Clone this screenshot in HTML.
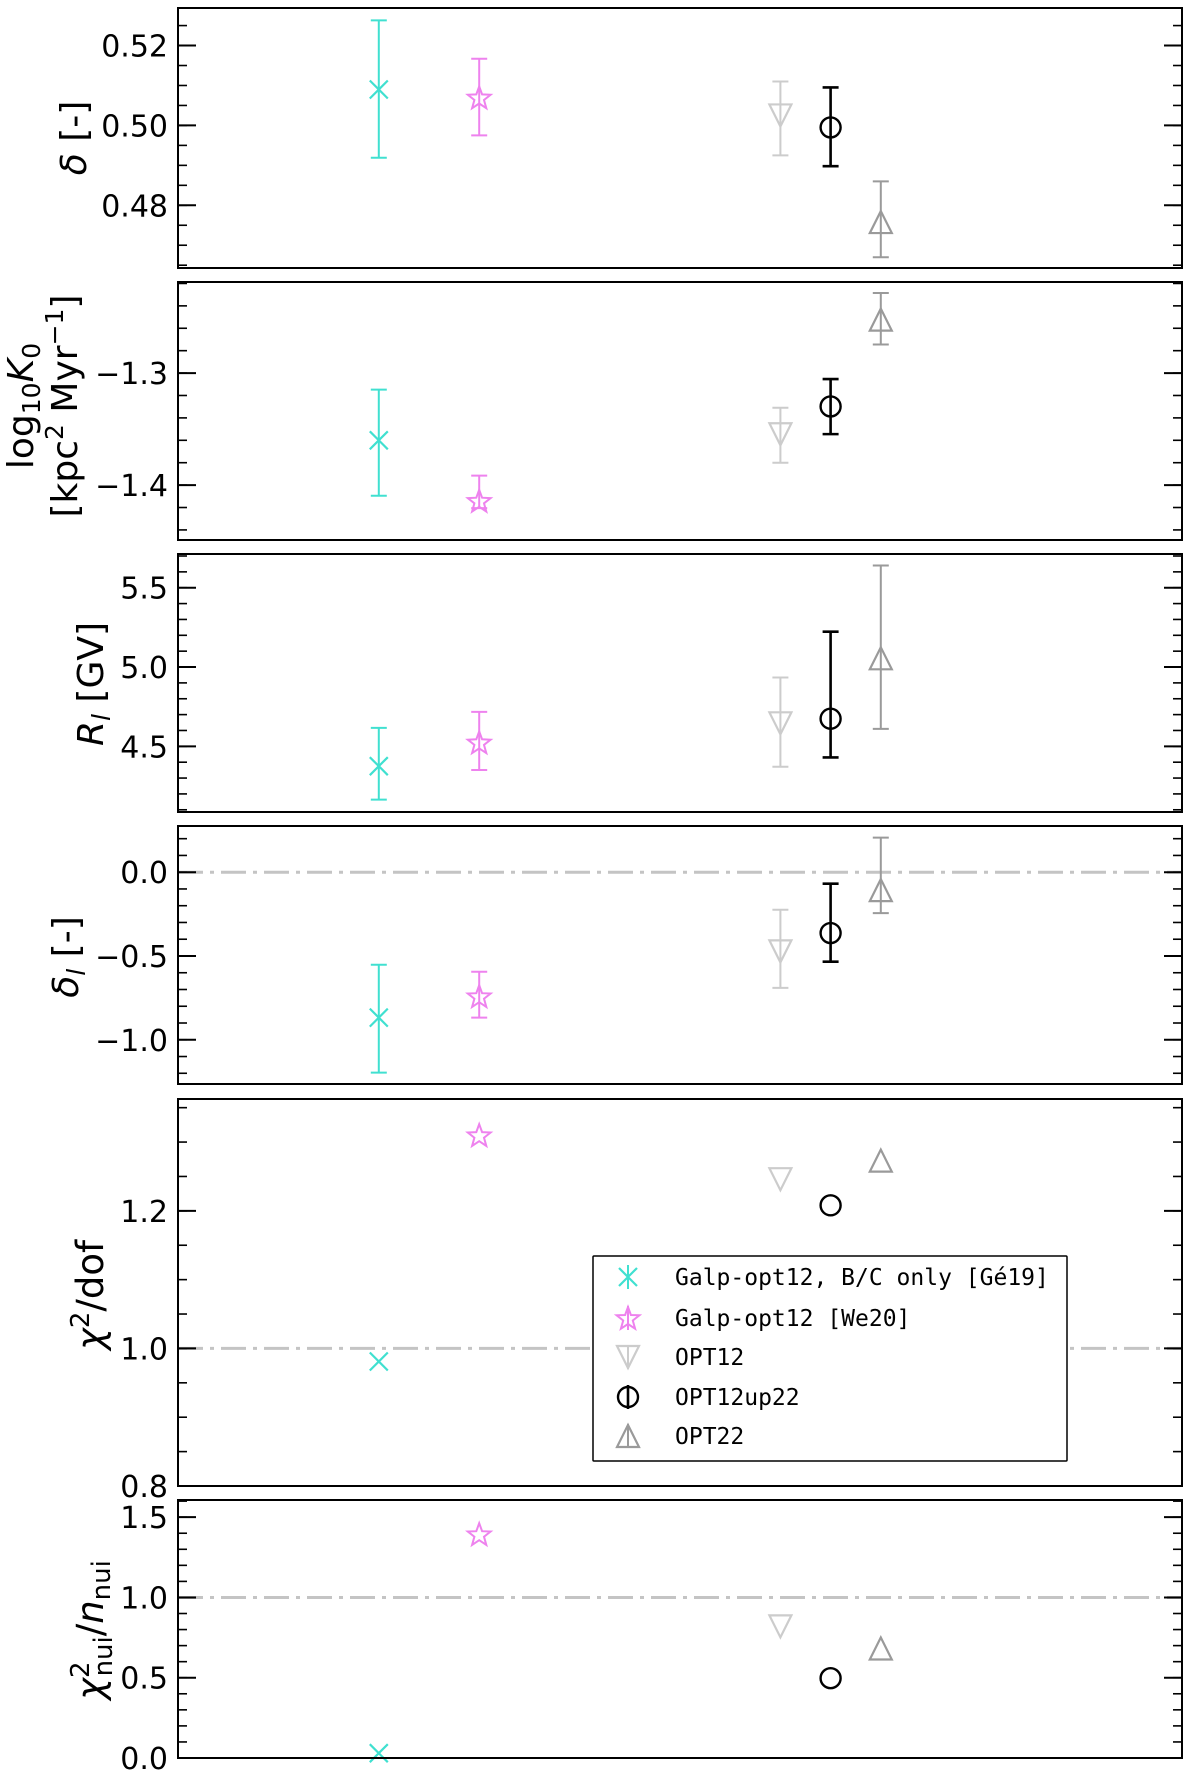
<!DOCTYPE html>
<html><head><meta charset="utf-8">
<style>
html,body{margin:0;padding:0;background:#fff;}
svg{display:block;font-family:"DejaVu Sans","Liberation Sans",sans-serif;}
</style></head>
<body>
<svg id="chart" width="1200" height="1771" viewBox="0 0 1200 1771" xmlns="http://www.w3.org/2000/svg"></svg>
<script>
// Model x positions (category index)
const models = ["Galp-opt12, B/C only [Gé19]", "Galp-opt12 [We20]", "OPT12", "OPT12up22", "OPT22"];
const modelX = [0, 2, 8, 9, 10];
// delta
const deltaVal = [0.509, 0.507, 0.5025, 0.4995, 0.4758];
const deltaLo = [0.4919, 0.4975, 0.4925, 0.4898, 0.467];
const deltaHi = [0.5263, 0.5167, 0.511, 0.5095, 0.486];
// log10 K0
const k0Val = [-1.360, -1.414, -1.3546, -1.3298, -1.2523];
const k0Lo = [-1.4095, -1.4205, -1.380, -1.3545, -1.2745];
const k0Hi = [-1.3148, -1.3915, -1.331, -1.3053, -1.2285];
// R_l
const rlVal = [4.375, 4.525, 4.645, 4.674, 5.055];
const rlLo = [4.164, 4.351, 4.371, 4.43, 4.61];
const rlHi = [4.616, 4.717, 4.934, 5.223, 5.64];
// delta_l
const dlVal = [-0.868, -0.740, -0.4725, -0.363, -0.107];
const dlLo = [-1.196, -0.868, -0.69, -0.534, -0.244];
const dlHi = [-0.5525, -0.594, -0.224, -0.0686, 0.206];
// chi2/dof
const chiVal = [0.981, 1.310, 1.246, 1.208, 1.273];
// chi2_nui/n_nui
const nuiVal = [0.03, 1.394, 0.82, 0.497, 0.682];
// tick labels
const ticks1 = [0.48, 0.50, 0.52];
const ticks2 = [-1.4, -1.3];
const ticks3 = [4.5, 5.0, 5.5];
const ticks4 = [-1.0, -0.5, 0.0];
const ticks5 = [0.8, 1.0, 1.2];
const ticks6 = [0.0, 0.5, 1.0, 1.5];

const NS = "http://www.w3.org/2000/svg";
const svg = document.getElementById('chart');
function mk(tag, attrs, parent) {
  const e = document.createElementNS(NS, tag);
  for (const k in attrs) e.setAttribute(k, attrs[k]);
  (parent || svg).appendChild(e);
  return e;
}
const X0 = 178, X1 = 1182;
function xs(i) { return X0 + (i + 4) * (X1 - X0) / 20; }

const colors = ["#40e0d0", "#ee82ee", "#cccccc", "#000000", "#9a9a9a"];
const markerNames = ["x-marker", "star-marker", "down-triangle-marker", "circle-marker", "up-triangle-marker"];

function drawMarker(k, cx, cy, g) {
  const c = colors[k];
  let el;
  if (k === 0) {
    el = mk('path', {d: `M${cx-9},${cy-9}L${cx+9},${cy+9}M${cx-9},${cy+9}L${cx+9},${cy-9}`, stroke: c, 'stroke-width': 2.2, fill: 'none'}, g);
  } else if (k === 1) {
    let p = '';
    for (let j = 0; j < 10; j++) {
      const r = j % 2 === 0 ? 12 : 5;
      const a = -Math.PI / 2 + j * Math.PI / 5;
      p += (j ? 'L' : 'M') + (cx + r * Math.cos(a)).toFixed(1) + ',' + (cy + r * Math.sin(a) + 1).toFixed(1);
    }
    el = mk('path', {d: p + 'Z', stroke: c, 'stroke-width': 2, fill: 'none'}, g);
  } else if (k === 2) {
    el = mk('path', {d: `M${cx-11},${cy-11}L${cx+11},${cy-11}L${cx},${cy+11}Z`, stroke: c, 'stroke-width': 2.2, fill: 'none'}, g);
  } else if (k === 3) {
    el = mk('circle', {cx: cx, cy: cy, r: 10, stroke: c, 'stroke-width': 2.4, fill: 'none'}, g);
  } else {
    el = mk('path', {d: `M${cx-11},${cy+11}L${cx+11},${cy+11}L${cx},${cy-11}Z`, stroke: c, 'stroke-width': 2.2, fill: 'none'}, g);
  }
  
  
}

function fmt(v, d) { const s = Math.abs(v).toFixed(d); return (v < -1e-9 ? '\u2212' : '') + s; }

function panel(opt) {
  const g = mk('g', {});
  
  
  const ys = v => opt.top + (opt.ymax - v) / (opt.ymax - opt.ymin) * (opt.bottom - opt.top);
  if (opt.refLine !== undefined) {
    const l = mk('line', {x1: X0, x2: X1, y1: ys(opt.refLine), y2: ys(opt.refLine), stroke: '#c4c4c4', 'stroke-width': 3, 'stroke-dasharray': '25 7 4 7'}, g);
    
    
  }
  const start = Math.ceil(opt.ymin / opt.minor - 1e-6);
  const end = Math.floor(opt.ymax / opt.minor + 1e-6);
  for (let n = start; n <= end; n++) {
    const v = n * opt.minor, y = ys(v);
    mk('line', {x1: X0, x2: X0 + 9, y1: y, y2: y, stroke: '#000', 'stroke-width': 1.6}, g);
    mk('line', {x1: X1, x2: X1 - 9, y1: y, y2: y, stroke: '#000', 'stroke-width': 1.6}, g);
  }
  opt.ticks.forEach(v => {
    const y = ys(v);
    mk('line', {x1: X0, x2: X0 + 18, y1: y, y2: y, stroke: '#000', 'stroke-width': 2}, g);
    mk('line', {x1: X1, x2: X1 - 18, y1: y, y2: y, stroke: '#000', 'stroke-width': 2}, g);
    const t = mk('text', {x: 168, y: y + 11, 'text-anchor': 'end', 'font-size': 30, fill: '#000'}, g);
    t.textContent = fmt(v, opt.dec);
    
    
  });
  for (let k = 0; k < modelX.length; k++) {
    const cx = xs(modelX[k]);
    const mg = mk('g', {}, g);
    
    
    if (opt.lo) {
      const y1 = ys(opt.hi[k]), y2 = ys(opt.lo[k]);
      const sw = k === 3 ? 2.6 : 2;
      mk('line', {x1: cx, x2: cx, y1: y1, y2: y2, stroke: colors[k], 'stroke-width': sw}, mg);
      mk('line', {x1: cx - 8, x2: cx + 8, y1: y1, y2: y1, stroke: colors[k], 'stroke-width': sw}, mg);
      mk('line', {x1: cx - 8, x2: cx + 8, y1: y2, y2: y2, stroke: colors[k], 'stroke-width': sw}, mg);
    }
    drawMarker(k, cx, ys(opt.vals[k]), mg);
  }
  const f = mk('rect', {x: X0, y: opt.top, width: X1 - X0, height: opt.bottom - opt.top, fill: 'none', stroke: '#000', 'stroke-width': 2}, g);
  
  
  return g;
}

panel({name: 'delta-panel', top: 8, bottom: 268, ymin: 0.4643, ymax: 0.5294, ticks: ticks1, minor: 0.005, dec: 2, vals: deltaVal, lo: deltaLo, hi: deltaHi});
panel({name: 'k0-panel', top: 282, bottom: 540, ymin: -1.449, ymax: -1.2187, ticks: ticks2, minor: 0.02, dec: 1, vals: k0Val, lo: k0Lo, hi: k0Hi});
panel({name: 'rl-panel', top: 554, bottom: 812, ymin: 4.086, ymax: 5.7126, ticks: ticks3, minor: 0.1, dec: 1, vals: rlVal, lo: rlLo, hi: rlHi});
panel({name: 'delta-l-panel', top: 826, bottom: 1084, ymin: -1.264, ymax: 0.2757, ticks: ticks4, minor: 0.1, dec: 1, vals: dlVal, lo: dlLo, hi: dlHi, refLine: 0});
panel({name: 'chi2-dof-panel', top: 1099, bottom: 1486, ymin: 0.8, ymax: 1.3626, ticks: ticks5, minor: 0.05, dec: 1, vals: chiVal, refLine: 1});
panel({name: 'chi2-nui-panel', top: 1500, bottom: 1758, ymin: 0.0, ymax: 1.607, ticks: ticks6, minor: 0.1, dec: 1, vals: nuiVal, refLine: 1});

const lg = mk('g', {});


mk('rect', {x: 593, y: 1256, width: 474, height: 205, fill: '#fff', stroke: '#000', 'stroke-width': 1.5, rx: 1}, lg);
const rowY = [1277, 1318, 1357, 1397, 1436];
for (let k = 0; k < models.length; k++) {
  const eg = mk('g', {}, lg);
  
  
  const cx = 628, cy = rowY[k];
  mk('line', {x1: cx, x2: cx, y1: cy - 12, y2: cy + 12, stroke: colors[k], 'stroke-width': k === 3 ? 2.6 : 2}, eg);
  drawMarker(k, cx, cy, eg);
  const t = mk('text', {x: 675, y: cy + 8, 'font-size': 23, 'font-family': '"DejaVu Sans Mono","Liberation Mono",monospace', fill: '#000'}, eg);
  t.textContent = models[k];
}
</script>
<svg style="position:absolute;left:0;top:0" width="180" height="1771" xmlns="http://www.w3.org/2000/svg" font-family="DejaVu Sans, Liberation Sans, sans-serif">
  <text transform="translate(86,138) rotate(-90)" text-anchor="middle" font-size="36"><tspan font-style="italic">δ</tspan>  [-]</text>
  <text transform="translate(33,406) rotate(-90)" text-anchor="middle" font-size="36">log<tspan font-size="25" dy="7">10</tspan><tspan font-style="italic" dy="-7">K</tspan><tspan font-size="25" dy="7">0</tspan></text>
  <text transform="translate(77,406) rotate(-90)" text-anchor="middle" font-size="36">[kpc<tspan font-size="25" dy="-14">2</tspan><tspan dy="14"> Myr</tspan><tspan font-size="25" dy="-14">−1</tspan><tspan dy="14">]</tspan></text>
  <text transform="translate(103,684) rotate(-90)" text-anchor="middle" font-size="36"><tspan font-style="italic">R</tspan><tspan font-size="25" dy="7" font-style="italic">l</tspan><tspan dy="-7">  [GV]</tspan></text>
  <text transform="translate(78,957) rotate(-90)" text-anchor="middle" font-size="36"><tspan font-style="italic">δ</tspan><tspan font-size="25" dy="7" font-style="italic">l</tspan><tspan dy="-7">  [-]</tspan></text>
  <text transform="translate(103,1295) rotate(-90)" text-anchor="middle" font-size="37"><tspan font-style="italic">χ</tspan><tspan font-size="26" dy="-14">2</tspan><tspan dy="14">/dof</tspan></text>
  <text transform="translate(103,1630) rotate(-90)" text-anchor="middle" font-size="37"><tspan font-style="italic">χ</tspan><tspan font-size="26" dy="-14">2</tspan><tspan font-size="26" dx="-15" dy="23">nui</tspan><tspan dy="-9">/</tspan><tspan font-style="italic">n</tspan><tspan font-size="26" dy="7">nui</tspan></text>
</svg>
</body></html>
